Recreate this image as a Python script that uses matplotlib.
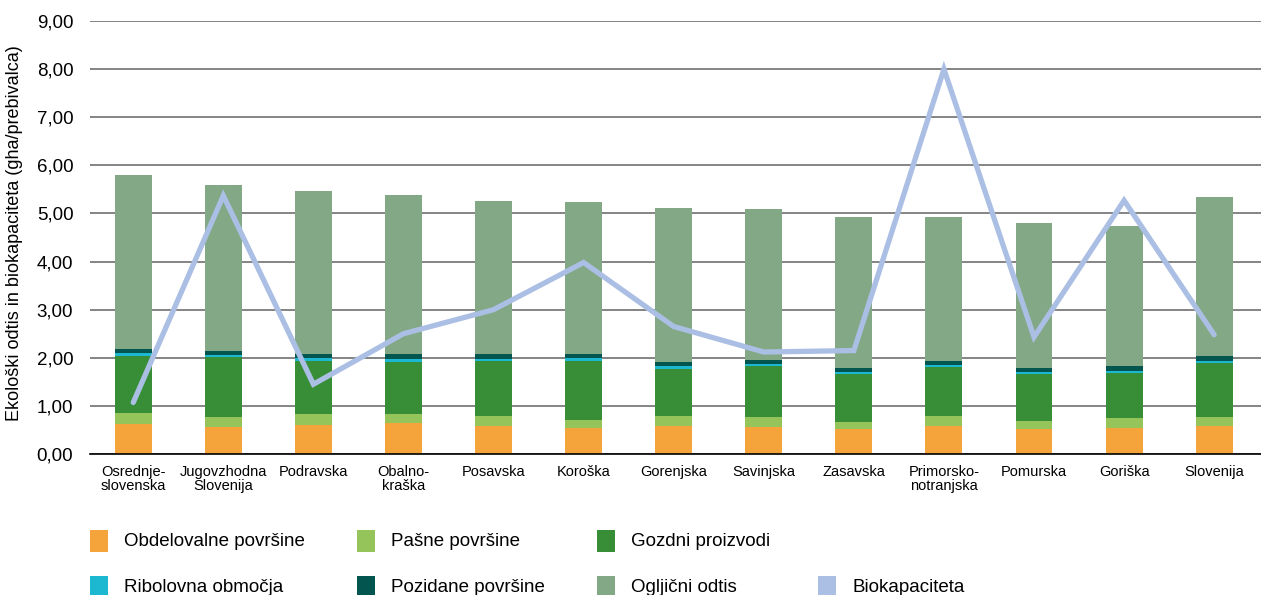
import matplotlib.pyplot as plt
from matplotlib.patches import Rectangle
import numpy as np

plt.rcParams['font.family'] = ['Liberation Sans', 'DejaVu Sans']

regions = ['Osrednje-\nslovenska', 'Jugovzhodna\nSlovenija', 'Podravska', 'Obalno-\nkraška',
           'Posavska', 'Koroška', 'Gorenjska', 'Savinjska', 'Zasavska',
           'Primorsko-\nnotranjska', 'Pomurska', 'Goriška', 'Slovenija']

# ekoloski odtis po komponentah (gha/prebivalca)
obdelovalne = [0.63, 0.56, 0.60, 0.64, 0.59, 0.55, 0.59, 0.56, 0.51, 0.59, 0.52, 0.55, 0.59]
pasne = [0.23, 0.21, 0.23, 0.20, 0.19, 0.16, 0.20, 0.21, 0.16, 0.20, 0.17, 0.20, 0.18]
gozdni = [1.18, 1.25, 1.10, 1.08, 1.16, 1.22, 0.98, 1.06, 0.99, 1.02, 0.97, 0.93, 1.12]
ribolovna = [0.05, 0.04, 0.07, 0.06, 0.04, 0.07, 0.06, 0.04, 0.04, 0.04, 0.04, 0.05, 0.04]
pozidane = [0.10, 0.09, 0.08, 0.10, 0.10, 0.08, 0.08, 0.08, 0.09, 0.08, 0.09, 0.10, 0.11]
ogljicni = [3.61, 3.44, 3.39, 3.30, 3.18, 3.16, 3.20, 3.14, 3.14, 3.00, 3.01, 2.91, 3.30]
biokapaciteta = [1.07, 5.37, 1.45, 2.50, 3.00, 3.98, 2.65, 2.12, 2.15, 8.00, 2.43, 5.27, 2.48]

labels = ['Obdelovalne površine', 'Pašne površine', 'Gozdni proizvodi',
          'Ribolovna območja', 'Pozidane površine', 'Ogljični odtis', 'Biokapaciteta']
colors = ['#F5A33B', '#95C55A', '#378E36', '#1CB7D0', '#03564F', '#83A886', '#AABFE3']

fig = plt.figure(figsize=(12.61, 5.95), dpi=100)
ax = fig.add_axes([90 / 1261, 1 - 454 / 595, 1 - 90 / 1261, (454 - 21) / 595])

x = np.arange(len(regions))
bottom = np.zeros(len(regions))
for vals, c in zip([obdelovalne, pasne, gozdni, ribolovna, pozidane, ogljicni], colors[:6]):
    ax.bar(x, vals, width=0.41, bottom=bottom, color=c, zorder=3)
    bottom += np.array(vals)

ax.plot(x, biokapaciteta, color=colors[6], lw=3.8, zorder=4,
        solid_capstyle='round', solid_joinstyle='miter')

ax.set_ylim(0, 9)
ax.set_xlim(-0.48, 12.52)
ax.set_yticks(np.arange(0, 10, 1))
ax.set_yticklabels([f'{v:.2f}'.replace('.', ',') for v in np.arange(0, 10, 1)], fontsize=13.5)
ax.set_xticks(x)
ax.set_xticklabels(regions, fontsize=10.5, linespacing=1.0)
ax.tick_params(axis='both', length=0)
ax.tick_params(axis='y', pad=12)
ax.tick_params(axis='x', pad=8)
ax.yaxis.grid(True, color='#6f6f6f', lw=1.2, zorder=1)
for s in ['top', 'right', 'left']:
    ax.spines[s].set_visible(False)
ax.spines['bottom'].set_color('black')
ax.spines['bottom'].set_linewidth(1.2)
ax.spines['bottom'].set_zorder(5)

fig.text(15 / 1261, 1 - 233 / 595, 'Ekološki odtis in biokapaciteta (gha/prebivalca)',
         rotation=90, ha='center', va='center', fontsize=13)

# legenda
W, H = 1261, 595
pos = [(90, 124, 541), (357, 391, 541), (597, 631, 541),
       (90, 124, 587), (357, 391, 587), (597, 631, 587), (818, 853, 587)]
for (sx, tx, cy), lab, c in zip(pos, labels, colors):
    fig.add_artist(Rectangle((sx / W, 1 - (cy + 11) / H), 18 / W, 22 / H,
                             transform=fig.transFigure, color=c, lw=0))
    fig.text(tx / W, 1 - cy / H, lab, ha='left', va='center', fontsize=13.5)

fig.savefig('out.png', dpi=100)
